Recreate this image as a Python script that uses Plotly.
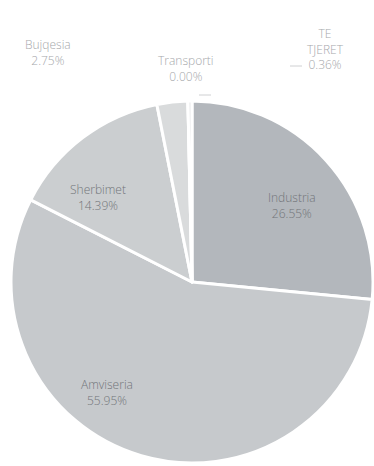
import plotly.graph_objects as go

# Sector shares (%)
sectors = ["Industria", "Amviseria", "Sherbimet", "Bujqesia", "Transporti", "TE TJERET"]
shares = [26.55, 55.95, 14.39, 2.75, 0.00, 0.36]
label_names = ["Industria", "Amviseria", "Sherbimet", "Bujqesia", "Transporti", "TE<br>TJERET"]

slice_colors = ["#b3b7bc", "#c6c9cc", "#cbced0", "#d9dbdc", "#e2e3e4", "#e6e7e8"]

W, H = 374, 466
cx, cy, r = 192, 282, 181

fig = go.Figure(go.Pie(
    labels=sectors,
    values=shares,
    sort=False,
    direction="clockwise",
    rotation=0,
    textinfo="none",
    hoverinfo="label+percent",
    marker=dict(colors=slice_colors, line=dict(color="white", width=3)),
    domain=dict(x=[(cx - r) / W, (cx + r) / W],
                y=[(H - cy - r) / H, (H - cy + r) / H]),
    showlegend=False,
))

# label anchor points in pixels (x, y from top); inside labels darker
label_pos = [(292, 205, "#727579"), (107, 392, "#727579"), (98, 198, "#727579"),
             (48, 52, "#a6a8ab"), (186, 68, "#a6a8ab"), (325, 49, "#a6a8ab")]

annotations = []
for name, val, (px, py, col) in zip(label_names, shares, label_pos):
    annotations.append(dict(
        x=px / W, y=1 - py / H, xref="paper", yref="paper",
        text=f"{name}<br>{val:.2f}%", showarrow=False,
        font=dict(family="Open Sans", size=12, color=col, weight=300),
        xanchor="center", yanchor="middle", align="center",
    ))

# faint leader lines for the small outside labels
leaders = [((199, 95), (211, 95)), ((290, 66), (302, 66))]
shapes = []
for (x0, y0), (x1, y1) in leaders:
    shapes.append(dict(type="line", xref="paper", yref="paper",
                       x0=x0 / W, y0=1 - y0 / H, x1=x1 / W, y1=1 - y1 / H,
                       line=dict(color="#cfd0d2", width=1)))

fig.update_layout(
    width=W, height=H,
    margin=dict(l=0, r=0, t=0, b=0),
    paper_bgcolor="white",
    plot_bgcolor="white",
    annotations=annotations,
    shapes=shapes,
)

fig.write_html("out.html")
